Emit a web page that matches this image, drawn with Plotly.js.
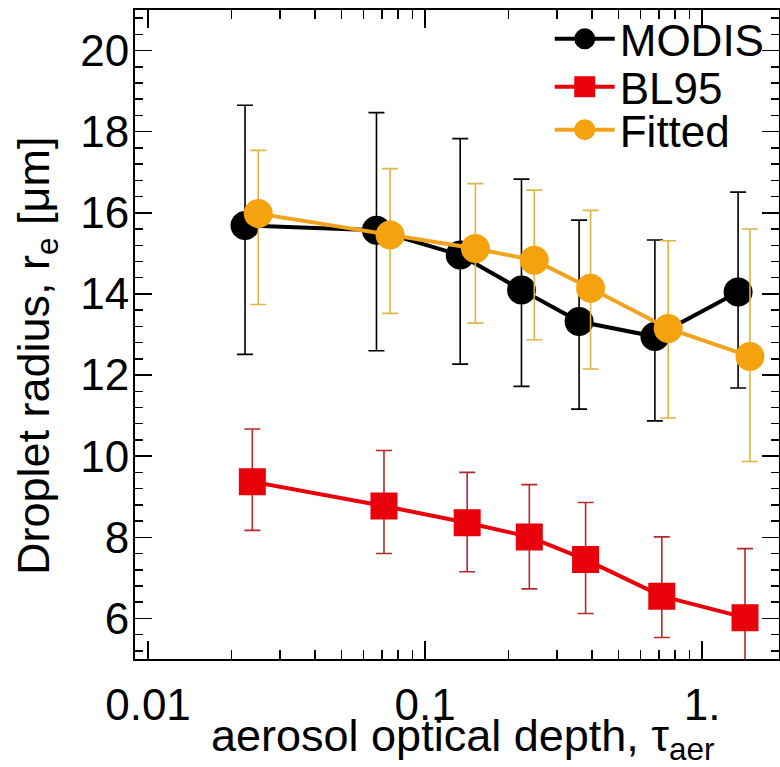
<!DOCTYPE html>
<html>
<head>
<meta charset="utf-8">
<script src="https://cdn.plot.ly/plotly-3.0.1.min.js"></script>
<style>html,body{margin:0;padding:0;background:#fff;}#chart{width:780px;height:767px;}</style>
</head>
<body>
<div id="chart"></div>
<script>
// MODIS
const tauModis = [0.0224, 0.0668, 0.134, 0.223, 0.36, 0.676, 1.35];
const reModis  = [15.69, 15.57, 14.96, 14.10, 13.32, 12.95, 14.05];
const modisHi  = [18.65, 18.47, 17.83, 16.83, 15.82, 15.33, 16.51];
const modisLo  = [12.51, 12.60, 12.27, 11.72, 11.16, 10.87, 11.68];
// BL95
const tauBL = [0.0238, 0.0711, 0.142, 0.238, 0.380, 0.716, 1.43];
const reBL  = [9.37, 8.77, 8.36, 8.01, 7.45, 6.55, 6.02];
const blHi  = [10.67, 10.14, 9.60, 9.30, 8.86, 8.01, 7.72];
const blLo  = [8.17, 7.60, 7.15, 6.73, 6.12, 5.53, 4.32];
// Fitted
const tauFit = [0.025, 0.0748, 0.152, 0.248, 0.396, 0.755, 1.49];
const reFit  = [15.98, 15.45, 15.12, 14.83, 14.14, 13.15, 12.46];
const fitHi  = [17.54, 17.09, 16.72, 16.56, 16.06, 15.31, 15.60];
const fitLo  = [13.74, 13.52, 13.28, 12.87, 12.15, 10.94, 9.87];

const xTickVals = [0.01, 0.1, 1];
const xTickText = ["0.01", "0.1", "1."];
const xTitle = "aerosol optical depth, τ<sub>aer</sub>";
const yTitle = "Droplet radius, r<sub>e</sub> [μm]";

const plus = (v, hi) => hi.map((h, i) => h - v[i]);
const minus = (v, lo) => lo.map((l, i) => v[i] - l);

const minorX = [];
for (let d = -3; d <= 1; d++) for (let m = 2; m <= 9; m++) minorX.push(m * Math.pow(10, d));

const FONT = "Liberation Sans, Arial, Helvetica, sans-serif";

const traces = [
  {
    name: "MODIS", legend: "legend", x: tauModis, y: reModis, type: "scatter", mode: "lines+markers",
    line: {color: "#000000", width: 4},
    marker: {symbol: "circle", size: 24, color: "#000000", line: {color: "#000000", width: 5}},
    error_y: {type: "data", symmetric: false, array: plus(reModis, modisHi), arrayminus: minus(reModis, modisLo),
              color: "#000000", thickness: 1.6, width: 8}
  },
  {
    name: "BL95", legend: "legend2", x: tauBL, y: reBL, type: "scatter", mode: "lines+markers",
    line: {color: "#e8000a", width: 4},
    marker: {symbol: "square", size: 22, color: "#e8000a", line: {color: "#e8000a", width: 5}},
    error_y: {type: "data", symmetric: false, array: plus(reBL, blHi), arrayminus: minus(reBL, blLo),
              color: "#b8282a", thickness: 1.6, width: 8}
  },
  {
    name: "Fitted", legend: "legend3", x: tauFit, y: reFit, type: "scatter", mode: "lines+markers",
    line: {color: "#f2a31e", width: 4},
    marker: {symbol: "circle", size: 24, color: "#f5a20f", line: {color: "#f5a20f", width: 5}},
    error_y: {type: "data", symmetric: false, array: plus(reFit, fitHi), arrayminus: minus(reFit, fitLo),
              color: "#e0b445", thickness: 1.6, width: 8}
  }
];

const legStyle = (y) => ({
  x: 0.644, y: y, xanchor: "left", yanchor: "middle", bgcolor: "rgba(0,0,0,0)",
  font: {family: FONT, size: 44, color: "#000"}, itemwidth: 60
});

const layout = {
  width: 780, height: 767,
  margin: {l: 135, r: 1, t: 10, b: 108},
  paper_bgcolor: "#ffffff", plot_bgcolor: "#ffffff",
  font: {family: FONT, color: "#000000", size: 40},
  showlegend: true,
  legend: legStyle(0.955),
  legend2: legStyle(0.881),
  legend3: legStyle(0.815),
  xaxis: {
    type: "log", range: [-2.047, 0.278],
    tickmode: "array", tickvals: xTickVals, ticktext: xTickText,
    ticks: "inside", ticklen: 18, tickwidth: 1.5, tickcolor: "#000",
    minor: {tickmode: "array", tickvals: minorX, ticks: "inside", ticklen: 9, tickwidth: 1.5, tickcolor: "#000"},
    showline: true, linecolor: "#000", linewidth: 2, mirror: "ticks",
    showgrid: false, zeroline: false, ticklabelstandoff: 6,
    tickfont: {family: FONT, size: 44, color: "#000"}
  },
  yaxis: {
    range: [5, 21], tickmode: "linear", tick0: 0, dtick: 2,
    ticks: "inside", ticklen: 17, tickwidth: 1.5, tickcolor: "#000",
    minor: {dtick: 0.4, tick0: 0, ticks: "inside", ticklen: 8, tickwidth: 1.5, tickcolor: "#000"},
    showline: true, linecolor: "#000", linewidth: 2, mirror: "ticks",
    showgrid: false, zeroline: false, ticklabelstandoff: -5,
    tickfont: {family: FONT, size: 44, color: "#000"}
  },
  annotations: [
    {text: xTitle, xref: "paper", yref: "paper", x: 0.509, y: -0.075, xanchor: "center", yanchor: "top",
     showarrow: false, font: {family: FONT, size: 45, color: "#000"}},
    {text: yTitle, xref: "paper", yref: "paper", x: -0.154, y: 0.468, xanchor: "center", yanchor: "middle",
     textangle: -90, showarrow: false, font: {family: FONT, size: 45, color: "#000"}}
  ]
};

Plotly.newPlot("chart", traces, layout, {displayModeBar: false, staticPlot: true});
</script>
</body>
</html>
